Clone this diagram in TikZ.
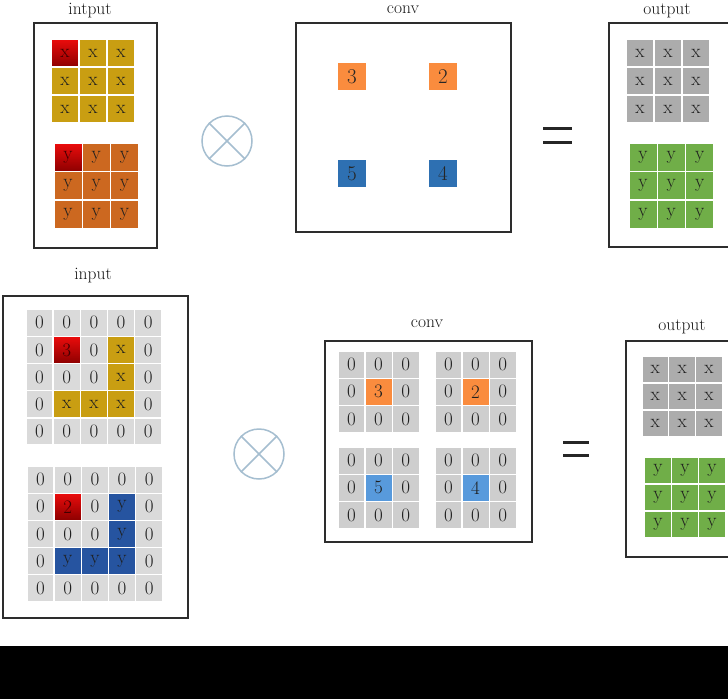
\documentclass[tikz,border=0pt]{standalone}
\usepackage{fontspec}
\setmainfont{Latin Modern Roman}
\definecolor{goldc}{RGB}{201,158,18}
\definecolor{orangey}{RGB}{204,104,32}
\definecolor{redA}{RGB}{235,12,12}
\definecolor{redB}{RGB}{140,0,0}
\definecolor{convor}{RGB}{250,140,62}
\definecolor{convbl}{RGB}{46,112,178}
\definecolor{convbltwo}{RGB}{88,154,220}
\definecolor{blueY}{RGB}{38,84,160}
\definecolor{grayo}{RGB}{172,172,172}
\definecolor{greeno}{RGB}{112,174,72}
\definecolor{zeroc}{RGB}{218,218,218}
\definecolor{zerotwo}{RGB}{206,206,206}
\definecolor{boxc}{RGB}{45,45,45}
\definecolor{otc}{RGB}{165,190,208}
\newcommand\cellfnt{\fontsize{19}{22}\selectfont}
\newcommand\bigfnt{\fontsize{21}{24}\selectfont}
\newcommand\labfnt{\fontsize{17.5}{21}\selectfont}
\newcommand\rowgrid[5]{%
  \def\cs{#4}%
  \foreach \row [count=\r from 0] in {#5}{%
    \foreach \s/\t [count=\c from 0] in \row {%
      \node[c\s, name=#1-\r-\c] at ({#2+\c*#4},{#3+\r*#4}) {\t};
    }%
  }%
}
\begin{document}
\begin{tikzpicture}[x=1pt,y=-1pt,
  cellbase/.style={draw=white, line width=1.3pt, inner sep=0pt,
    minimum width=\cs pt, minimum height=\cs pt, text=black!88, font=\cellfnt},
  cz/.style={cellbase, fill=zeroc},
  cq/.style={cellbase, fill=zerotwo},
  cg/.style={cellbase, fill=goldc},
  co/.style={cellbase, fill=orangey},
  cb/.style={cellbase, fill=blueY},
  ca/.style={cellbase, fill=convor},
  cl/.style={cellbase, fill=convbltwo},
  ck/.style={cellbase, fill=grayo},
  cn/.style={cellbase, fill=greeno},
  cR/.style={cellbase, top color=redA, bottom color=redB, text=red!25!black},
  panel/.style={draw=boxc, line width=2.5pt},
  lab/.style={font=\labfnt, anchor=base, inner sep=0pt, text=black!90},
  otimesnode/.style={circle, draw=otc, line width=1.5pt, minimum size=50pt, inner sep=0pt},
  eqline/.style={line width=3pt, draw=black!85},
  wsq/.style={inner sep=0pt, minimum width=28pt, minimum height=27pt, font=\bigfnt, text=black!85}
]
\useasboundingbox (0,0) rectangle (728,699);
\clip (0,0) rectangle (728,699);
\fill[white] (0,0) rectangle (728,699);

% ===== top row =====
\node[lab] (lin1) at (90,14) {intput};
\draw[panel] (34,23) rectangle (157,248);
\rowgrid{tx}{65}{53}{28}{{R/x,g/x,g/x},{g/x,g/x,g/x},{g/x,g/x,g/x}}
\rowgrid{ty}{68}{157.5}{28.3}{{R/y,o/y,o/y},{o/y,o/y,o/y},{o/y,o/y,o/y}}

\node[otimesnode] (ot1) at (227,141) {};
\draw[otc, line width=1.5pt] (ot1.north west) -- (ot1.south east);
\draw[otc, line width=1.5pt] (ot1.north east) -- (ot1.south west);

\node[lab] (lconv1) at (403,13) {conv};
\draw[panel] (296,23) rectangle (511,232);
\node[wsq, fill=convor] (k3) at (352,76.5) {3};
\node[wsq, fill=convor] (k2) at (443,76.5) {2};
\node[wsq, fill=convbl] (k5) at (352,173.5) {5};
\node[wsq, fill=convbl] (k4) at (443,173.5) {4};

\draw[eqline] (543,128) -- (572,128);
\draw[eqline] (543,142) -- (572,142);

\node[lab] (lout1) at (667,14) {output};
\draw[panel] (609,23) rectangle (770,247);
\rowgrid{ox}{640}{53}{28}{{k/x,k/x,k/x},{k/x,k/x,k/x},{k/x,k/x,k/x}}
\rowgrid{oy}{643}{157.5}{28.3}{{n/y,n/y,n/y},{n/y,n/y,n/y},{n/y,n/y,n/y}}

% ===== bottom row =====
\node[lab] (lin2) at (93,279) {input};
\draw[panel] (3,296) rectangle (188,618);
\rowgrid{bx}{39.5}{322.7}{27.2}{{z/0,z/0,z/0,z/0,z/0},{z/0,R/3,z/0,g/x,z/0},{z/0,z/0,z/0,g/x,z/0},{z/0,g/x,g/x,g/x,z/0},{z/0,z/0,z/0,z/0,z/0}}
\rowgrid{by}{40.5}{479.6}{27.2}{{z/0,z/0,z/0,z/0,z/0},{z/0,R/2,z/0,b/y,z/0},{z/0,z/0,z/0,b/y,z/0},{z/0,b/y,b/y,b/y,z/0},{z/0,z/0,z/0,z/0,z/0}}

\node[otimesnode] (ot2) at (259,454) {};
\draw[otc, line width=1.5pt] (ot2.north west) -- (ot2.south east);
\draw[otc, line width=1.5pt] (ot2.north east) -- (ot2.south west);

\node[lab] (lconv2) at (427,327.5) {conv};
\draw[panel] (325,341) rectangle (532,542);
\rowgrid{c1}{351.5}{364.7}{27.1}{{q/0,q/0,q/0},{q/0,a/3,q/0},{q/0,q/0,q/0}}
\rowgrid{c2}{448.5}{364.7}{27.1}{{q/0,q/0,q/0},{q/0,a/2,q/0},{q/0,q/0,q/0}}
\rowgrid{c3}{351.5}{460.7}{27.1}{{q/0,q/0,q/0},{q/0,l/5,q/0},{q/0,q/0,q/0}}
\rowgrid{c4}{448.5}{460.7}{27.1}{{q/0,q/0,q/0},{q/0,l/4,q/0},{q/0,q/0,q/0}}

\draw[eqline] (563,442) -- (589,442);
\draw[eqline] (563,455) -- (589,455);

\node[lab] (lout2) at (682,330) {output};
\draw[panel] (626,341) rectangle (770,557);
\rowgrid{px}{655.3}{369.7}{26.8}{{k/x,k/x,k/x},{k/x,k/x,k/x},{k/x,k/x,k/x}}
\rowgrid{py}{658}{470.5}{27}{{n/y,n/y,n/y},{n/y,n/y,n/y},{n/y,n/y,n/y}}

% black band at the bottom
\fill[black] (0,646) rectangle (728,699);
\end{tikzpicture}
\end{document}
